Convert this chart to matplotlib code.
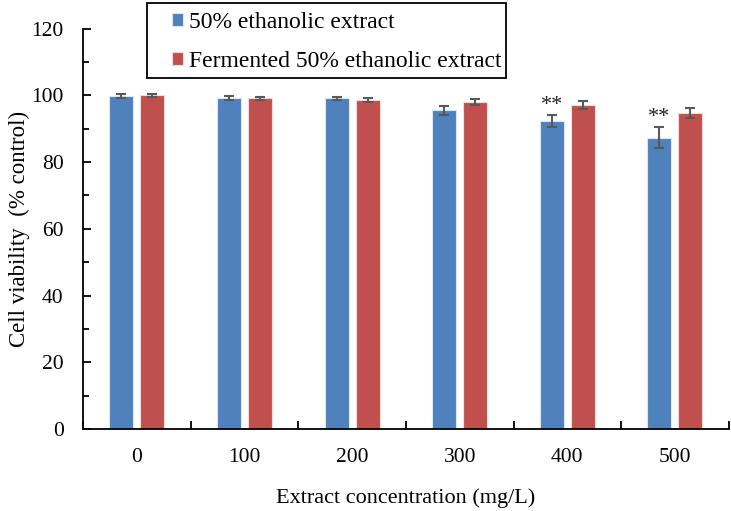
import matplotlib
matplotlib.use("Agg")
import matplotlib.pyplot as plt
import numpy as np
from matplotlib.ticker import MultipleLocator, FixedLocator
from matplotlib.patches import Rectangle

plt.rcParams['font.family'] = ['Liberation Serif', 'DejaVu Serif']

concentrations = ["0", "100", "200", "300", "400", "500"]
ethanolic = [99.9, 99.3, 99.1, 95.5, 92.3, 87.3]
ethanolic_err = [0.65, 0.65, 0.45, 1.35, 1.7, 3.2]
fermented = [100.0, 99.1, 98.7, 98.0, 97.1, 94.7]
fermented_err = [0.45, 0.4, 0.65, 0.9, 1.15, 1.55]
marks = ["", "", "", "", "**", "**"]
series_names = ["50% ethanolic extract", "Fermented 50% ethanolic extract"]

W, H = 731, 511
fig = plt.figure(figsize=(W / 100, H / 100), dpi=100)
ax = fig.add_axes([0.1135, 0.1605, 0.8835, 0.7835])

x = np.arange(len(concentrations))
w = 0.223
off = 0.144
err_kw = dict(ecolor='#595959', elinewidth=1.5, capsize=3.3, capthick=1.5)
ax.bar(x - off, ethanolic, w, yerr=ethanolic_err, color='#4F81BD',
       edgecolor='#DCE6F2', linewidth=0.8, error_kw=err_kw, label=series_names[0])
ax.bar(x + off, fermented, w, yerr=fermented_err, color='#C0504D',
       edgecolor='#F2DCDB', linewidth=0.8, error_kw=err_kw, label=series_names[1])

for xi, v, e, m in zip(x, ethanolic, ethanolic_err, marks):
    if m:
        ax.text(xi - off, v + e + 1.6, m, ha='center', va='baseline', fontsize=16, color='#222222')

ax.set_xlim(-0.5, len(concentrations) - 0.5)
ax.set_ylim(0, 120)
ax.yaxis.set_major_locator(MultipleLocator(20))
ax.yaxis.set_minor_locator(MultipleLocator(10))
ax.xaxis.set_major_locator(FixedLocator(x))
ax.set_xticklabels(concentrations)
ax.xaxis.set_minor_locator(FixedLocator(np.arange(-0.5, len(concentrations), 1.0)))

ax.spines['top'].set_visible(False)
ax.spines['right'].set_visible(False)
for s in ['left', 'bottom']:
    ax.spines[s].set_linewidth(1.3)
    ax.spines[s].set_color('black')

ax.tick_params(axis='x', which='major', length=0, labelsize=15.5, pad=13.5)
ax.tick_params(axis='x', which='minor', direction='in', length=6, width=1.3)
ax.tick_params(axis='y', which='major', direction='in', length=6, width=1.3, labelsize=15.5, pad=14)
ax.tick_params(axis='y', which='minor', direction='in', length=4, width=1.3)

ax.set_xlabel("Extract concentration (mg/L)", fontsize=16, labelpad=15.5)
ax.set_ylabel("Cell viability  (% control)", fontsize=16.5)
ax.yaxis.set_label_coords(-0.082, 0.5)

leg = ax.legend(loc='upper left', bbox_to_anchor=(172 / W, 1 - 12 / H), bbox_transform=fig.transFigure,
                fontsize=17, frameon=False,
                handlelength=0.47, handleheight=0.47, handletextpad=0.25, labelspacing=0.75,
                borderpad=0, borderaxespad=0)
fig.add_artist(Rectangle((147 / W, 1 - 78 / H), (506 - 147) / W, (78 - 2.7) / H,
                         transform=fig.transFigure, fill=False, edgecolor='black', linewidth=1.3))

fig.savefig("out.png", dpi=100)
